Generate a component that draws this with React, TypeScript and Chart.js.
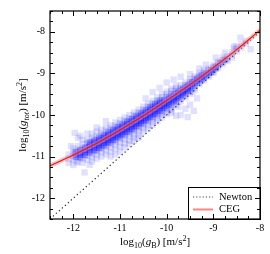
import React, { useEffect, useRef } from "react";
import { Chart, registerables } from "chart.js";

Chart.register(...registerables);

// ---- axis settings ----
const xRange = [-12.5, -8];
const yRange = [-12.5, -7.5];
const xTickVals = [-12, -11, -10, -9, -8];
const yTickVals = [-12, -11, -10, -9, -8];
const minorStep = 0.25;

// ---- CEG curve ----
const cegX = [-12.5, -12.0, -11.5, -11.0, -10.5, -10.0, -9.5, -9.0, -8.5, -8.0];
const cegY = [-11.22, -10.96, -10.68, -10.36, -10.02, -9.65, -9.27, -8.86, -8.43, -7.96];

// ---- Newton line ----
const newtonX = [-12.5, -8];
const newtonY = [-12.5, -8];

// ---- observed cloud: columns of gBar with gObs values ----
const cloudCols = [
  -12.1, -12.0, -11.9, -11.8, -11.7, -11.6, -11.5, -11.4, -11.3, -11.2, -11.1, -11.0,
  -10.9, -10.8, -10.7, -10.6, -10.5, -10.4, -10.3, -10.2, -10.1, -10.0, -9.9, -9.8,
  -9.7, -9.6, -9.5, -9.4, -9.3, -9.2, -9.1, -9.0, -8.9, -8.8, -8.7, -8.6, -8.5, -8.4, -8.3,
];
const cloudObs = [
  [-11.05, -10.95, -11.15],
  [-10.98, -10.9, -11.08, -10.8, -11.2],
  [-10.92, -10.85, -11.0, -10.75, -11.12, -10.55],
  [-10.88, -10.8, -10.95, -10.7, -11.05, -10.6, -11.15],
  [-10.82, -10.76, -10.9, -10.68, -10.98, -10.6, -11.08, -10.45],
  [-10.78, -10.7, -10.86, -10.64, -10.94, -10.55, -11.02, -10.45, -11.12],
  [-10.72, -10.65, -10.8, -10.58, -10.88, -10.5, -10.96, -10.4, -11.05, -10.7, -10.84],
  [-10.66, -10.58, -10.74, -10.52, -10.82, -10.44, -10.9, -10.35, -11.0, -10.62, -10.78],
  [-10.6, -10.52, -10.68, -10.46, -10.76, -10.38, -10.85, -10.3, -10.95, -10.56, -10.72, -10.64],
  [-10.54, -10.46, -10.62, -10.4, -10.7, -10.32, -10.78, -10.25, -10.88, -10.5, -10.66, -10.58, -11.0],
  [-10.48, -10.4, -10.56, -10.34, -10.64, -10.26, -10.72, -10.18, -10.82, -10.44, -10.6, -10.52, -10.95],
  [-10.42, -10.34, -10.5, -10.28, -10.58, -10.2, -10.66, -10.12, -10.76, -10.38, -10.54, -10.46, -10.88],
  [-10.35, -10.27, -10.43, -10.21, -10.51, -10.14, -10.59, -10.06, -10.68, -10.31, -10.47, -10.39, -10.78],
  [-10.29, -10.21, -10.37, -10.15, -10.45, -10.08, -10.52, -10.0, -10.62, -10.25, -10.41, -10.33, -10.7],
  [-10.22, -10.14, -10.3, -10.08, -10.38, -10.01, -10.46, -9.94, -10.55, -10.18, -10.34, -10.26, -10.62],
  [-10.15, -10.07, -10.23, -10.01, -10.31, -9.94, -10.39, -9.87, -10.48, -10.11, -10.27, -10.19, -10.55],
  [-10.08, -10.0, -10.16, -9.94, -10.24, -9.87, -10.32, -9.8, -10.4, -10.04, -10.2, -10.12],
  [-10.01, -9.93, -10.09, -9.87, -10.17, -9.8, -10.25, -9.73, -10.33, -9.97, -10.13, -10.05],
  [-9.93, -9.85, -10.01, -9.79, -10.09, -9.72, -10.17, -9.66, -10.24, -9.89, -10.05, -9.97],
  [-9.86, -9.78, -9.94, -9.72, -10.01, -9.65, -10.08, -9.58, -10.15, -9.82, -9.98, -9.9],
  [-9.78, -9.7, -9.86, -9.64, -9.93, -9.57, -10.0, -9.5, -10.06, -9.74, -9.9, -9.82],
  [-9.71, -9.63, -9.78, -9.57, -9.85, -9.5, -9.92, -9.44, -9.98, -9.67, -9.82, -9.75],
  [-9.63, -9.55, -9.7, -9.49, -9.77, -9.42, -9.84, -9.37, -9.89, -9.6, -9.74],
  [-9.56, -9.48, -9.63, -9.42, -9.7, -9.36, -9.76, -9.3, -9.6, -9.67],
  [-9.48, -9.4, -9.55, -9.35, -9.62, -9.28, -9.67, -9.52],
  [-9.4, -9.33, -9.47, -9.28, -9.53, -9.22, -9.58, -9.44],
  [-9.32, -9.26, -9.38, -9.2, -9.44, -9.14, -9.49, -9.35],
  [-9.24, -9.18, -9.3, -9.12, -9.35, -9.07, -9.39],
  [-9.16, -9.1, -9.22, -9.05, -9.26, -8.99],
  [-9.08, -9.02, -9.13, -8.96, -9.17, -8.92],
  [-8.99, -8.93, -9.04, -8.88, -9.08],
  [-8.91, -8.85, -8.96, -8.8, -8.99],
  [-8.82, -8.76, -8.87, -8.72],
  [-8.73, -8.68, -8.78, -8.62],
  [-8.65, -8.59, -8.7],
  [-8.56, -8.5, -8.62],
  [-8.47, -8.42, -8.36],
  [-8.38, -8.3],
  [-8.28, -8.22],
];
// ---- dense core: half-step columns ----
const coreCols = [
  -11.95, -11.85, -11.75, -11.65, -11.55, -11.45, -11.35, -11.25, -11.15, -11.05, -10.95,
  -10.85, -10.75, -10.65, -10.55, -10.45, -10.35, -10.25, -10.15, -10.05, -9.95, -9.85,
  -9.75, -9.65, -9.55, -9.45, -9.35, -9.25, -9.15, -9.05, -8.95, -8.85, -8.75,
];
const coreObs = [
  [-10.95, -11.01, -10.89],
  [-10.9, -10.96, -10.84, -11.02],
  [-10.84, -10.9, -10.78, -10.96],
  [-10.78, -10.84, -10.72, -10.9, -10.66],
  [-10.73, -10.79, -10.67, -10.85, -10.61],
  [-10.67, -10.73, -10.61, -10.79, -10.55],
  [-10.61, -10.67, -10.55, -10.73, -10.49],
  [-10.54, -10.6, -10.48, -10.66, -10.42],
  [-10.48, -10.54, -10.42, -10.6, -10.36],
  [-10.41, -10.47, -10.35, -10.53, -10.29],
  [-10.35, -10.41, -10.29, -10.47, -10.23],
  [-10.28, -10.34, -10.22, -10.4, -10.16],
  [-10.22, -10.28, -10.16, -10.34, -10.1],
  [-10.15, -10.21, -10.09, -10.27, -10.03],
  [-10.08, -10.14, -10.02, -10.2, -9.96],
  [-10.01, -10.07, -9.95, -10.13, -9.89],
  [-9.93, -9.99, -9.87, -10.05, -9.81],
  [-9.86, -9.92, -9.8, -9.98, -9.74],
  [-9.78, -9.84, -9.72, -9.9, -9.66],
  [-9.71, -9.77, -9.65, -9.83],
  [-9.63, -9.69, -9.58, -9.75],
  [-9.56, -9.62, -9.51, -9.67],
  [-9.48, -9.54, -9.44, -9.59],
  [-9.41, -9.46, -9.37, -9.51],
  [-9.33, -9.38, -9.29, -9.42],
  [-9.25, -9.3, -9.21],
  [-9.17, -9.22, -9.13],
  [-9.09, -9.14, -9.05],
  [-9.0, -9.05],
  [-8.92, -8.97],
  [-8.84, -8.88],
  [-8.75],
  [-8.67],
];
// ---- sparse faint points around the cloud ----
const sparseX = [
  -10.45, -10.3, -10.15, -10.0, -9.85, -9.7, -9.5, -9.3, -9.16, -8.95, -8.75, -8.55, -8.42, -8.2, -8.56,
  -11.97, -11.93, -11.76, -12.05, -11.85, -11.65, -11.5, -11.3,
  -9.9, -9.8, -9.7, -9.6, -9.5, -9.42, -9.35, -9.75, -9.55, -9.45,
];
const sparseY = [
  -9.6, -9.45, -9.35, -9.22, -9.15, -9.08, -9.02, -8.88, -8.79, -8.62, -8.5, -8.35, -8.14, -8.42, -8.4,
  -10.43, -11.14, -11.38, -10.75, -10.5, -11.2, -10.3, -10.15,
  -9.95, -10.02, -10.0, -9.85, -9.75, -9.9, -9.6, -9.8, -10.05, -9.45,
];

const legendLabels = ["Newton", "CEG"];

const SERIF = '"Liberation Serif", "DejaVu Serif", serif';

type Seg = { t: string; size: number; italic?: boolean; dy?: number };

const xTitle: Seg[] = [
  { t: "log", size: 11 },
  { t: "10", size: 8, dy: 3 },
  { t: "(", size: 11 },
  { t: "g", size: 11, italic: true },
  { t: "B", size: 8, dy: 3 },
  { t: ") [m/s", size: 11 },
  { t: "2", size: 8, dy: -4 },
  { t: "]", size: 11 },
];
const yTitle: Seg[] = [
  { t: "log", size: 11 },
  { t: "10", size: 8, dy: 3 },
  { t: "(", size: 11 },
  { t: "g", size: 11, italic: true },
  { t: "tot", size: 8, italic: true, dy: 3 },
  { t: ") [m/s", size: 11 },
  { t: "2", size: 8, dy: -4 },
  { t: "]", size: 11 },
];

function drawRich(ctx: CanvasRenderingContext2D, segs: Seg[], cx: number, base: number) {
  const fontOf = (s: Seg) => `${s.italic ? "italic " : ""}${s.size}px ${SERIF}`;
  let total = 0;
  for (const s of segs) {
    ctx.font = fontOf(s);
    total += ctx.measureText(s.t).width;
  }
  let x = cx - total / 2;
  ctx.textAlign = "left";
  ctx.textBaseline = "alphabetic";
  for (const s of segs) {
    ctx.font = fontOf(s);
    ctx.fillText(s.t, x, base + (s.dy || 0));
    x += ctx.measureText(s.t).width;
  }
}

const framePlugin = {
  id: "framePlugin",
  afterDatasetsDraw(chart: any) {
    const { ctx, chartArea: a, scales } = chart;
    const xs = scales.x;
    const ys = scales.y;
    ctx.save();
    // legend box
    const lw = 72;
    const lh = 32;
    const lx = a.right - lw;
    const ly = a.bottom - lh;
    ctx.fillStyle = "#fff";
    ctx.fillRect(lx, ly, lw, lh);
    ctx.strokeStyle = "#000";
    ctx.lineWidth = 1;
    ctx.strokeRect(Math.round(lx) + 0.5, Math.round(ly) + 0.5, lw, lh);
    // Newton entry
    const r1 = ly + 10;
    const r2 = ly + 22.5;
    ctx.save();
    ctx.setLineDash([1.2, 2]);
    ctx.strokeStyle = "#444";
    ctx.lineWidth = 1.1;
    ctx.beginPath();
    ctx.moveTo(lx + 5, r1);
    ctx.lineTo(lx + 25, r1);
    ctx.stroke();
    ctx.restore();
    ctx.strokeStyle = "rgba(255,120,120,0.9)";
    ctx.lineWidth = 2;
    ctx.beginPath();
    ctx.moveTo(lx + 5, r2);
    ctx.lineTo(lx + 25, r2);
    ctx.stroke();
    ctx.fillStyle = "#000";
    ctx.font = `10.5px ${SERIF}`;
    ctx.textAlign = "left";
    ctx.textBaseline = "middle";
    ctx.fillText(legendLabels[0], lx + 31, r1);
    ctx.fillText(legendLabels[1], lx + 31, r2);

    // frame
    ctx.strokeStyle = "#000";
    ctx.lineWidth = 1.2;
    ctx.strokeRect(a.left, a.top, a.right - a.left, a.bottom - a.top);

    // inward ticks on all four sides
    ctx.lineWidth = 1;
    ctx.beginPath();
    for (let v = xRange[0]; v <= xRange[1] + 1e-9; v += minorStep) {
      const major = Math.abs(v - Math.round(v)) < 1e-9;
      const L = major ? 5 : 3;
      const px = Math.round(xs.getPixelForValue(v)) + 0.5;
      ctx.moveTo(px, a.bottom);
      ctx.lineTo(px, a.bottom - L);
      ctx.moveTo(px, a.top);
      ctx.lineTo(px, a.top + L);
    }
    for (let v = yRange[0]; v <= yRange[1] + 1e-9; v += minorStep) {
      const major = Math.abs(v - Math.round(v)) < 1e-9;
      const L = major ? 5 : 3;
      const py = Math.round(ys.getPixelForValue(v)) + 0.5;
      ctx.moveTo(a.left, py);
      ctx.lineTo(a.left + L, py);
      ctx.moveTo(a.right, py);
      ctx.lineTo(a.right - L, py);
    }
    ctx.stroke();
    ctx.restore();
  },
  afterDraw(chart: any) {
    const { ctx, chartArea: a } = chart;
    ctx.save();
    ctx.fillStyle = "#000";
    drawRich(ctx, xTitle, (a.left + a.right) / 2, 245);
    ctx.translate(26, (a.top + a.bottom) / 2);
    ctx.rotate(-Math.PI / 2);
    drawRich(ctx, yTitle, 0, 0);
    ctx.restore();
  },
};

export default function App() {
  const ref = useRef<HTMLCanvasElement | null>(null);

  useEffect(() => {
    if (!ref.current) return;
    const halo: { x: number; y: number }[] = [];
    const core: { x: number; y: number }[] = [];
    cloudCols.forEach((cx, i) => cloudObs[i].forEach((cy) => halo.push({ x: cx, y: cy })));
    sparseX.forEach((sx, i) => halo.push({ x: sx, y: sparseY[i] }));
    coreCols.forEach((cx, i) => coreObs[i].forEach((cy) => core.push({ x: cx, y: cy })));
    const ceg = cegX.map((x, i) => ({ x, y: cegY[i] }));
    const newton = newtonX.map((x, i) => ({ x, y: newtonY[i] }));

    const chart = new Chart(ref.current, {
      type: "scatter",
      data: {
        datasets: [
          {
            label: "CEG",
            data: ceg,
            showLine: true,
            borderColor: "rgb(235,20,20)",
            borderWidth: 1.1,
            pointRadius: 0,
            cubicInterpolationMode: "monotone",
            order: 0,
          },
          {
            label: "CEG band",
            data: ceg,
            showLine: true,
            borderColor: "rgba(255,140,140,0.5)",
            borderWidth: 4.5,
            pointRadius: 0,
            cubicInterpolationMode: "monotone",
            order: 1,
          },
          {
            label: "Newton",
            data: newton,
            showLine: true,
            borderColor: "#222",
            borderWidth: 1.2,
            borderDash: [1.2, 2.8],
            pointRadius: 0,
            order: 2,
          },
          {
            label: "core",
            data: core,
            pointStyle: "rect",
            pointRadius: 4.5,
            backgroundColor: "rgba(10,10,255,0.3)",
            borderWidth: 0,
            order: 3,
          },
          {
            label: "halo",
            data: halo,
            pointStyle: "rect",
            pointRadius: 4.5,
            backgroundColor: "rgba(20,20,255,0.13)",
            borderWidth: 0,
            order: 4,
          },
        ],
      },
      options: {
        animation: false,
        responsive: false,
        maintainAspectRatio: false,
        events: [],
        layout: { padding: { left: 0, right: 10, top: 9, bottom: 0 } },
        plugins: { legend: { display: false }, tooltip: { enabled: false } },
        scales: {
          x: {
            type: "linear",
            min: xRange[0],
            max: xRange[1],
            afterFit: (s: any) => {
              s.height = 35;
            },
            afterBuildTicks: (s: any) => {
              s.ticks = xTickVals.map((v) => ({ value: v }));
            },
            grid: { display: false, drawTicks: false },
            border: { display: false },
            ticks: {
              padding: 3,
              color: "#000",
              font: { family: SERIF, size: 10 },
              callback: (v: any) => String(v),
            },
          },
          y: {
            type: "linear",
            min: yRange[0],
            max: yRange[1],
            afterFit: (s: any) => {
              s.width = 50;
            },
            afterBuildTicks: (s: any) => {
              s.ticks = yTickVals.map((v) => ({ value: v }));
            },
            grid: { display: false, drawTicks: false },
            border: { display: false },
            ticks: {
              padding: 5,
              color: "#000",
              font: { family: SERIF, size: 10 },
              callback: (v: any) => String(v),
            },
          },
        },
      },
      plugins: [framePlugin],
    });
    return () => chart.destroy();
  }, []);

  return (
    <div style={{ position: "absolute", left: 0, top: 0, width: 270, height: 254, background: "#fff" }}>
      <canvas ref={ref} width={270} height={254} style={{ display: "block" }} />
    </div>
  );
}
